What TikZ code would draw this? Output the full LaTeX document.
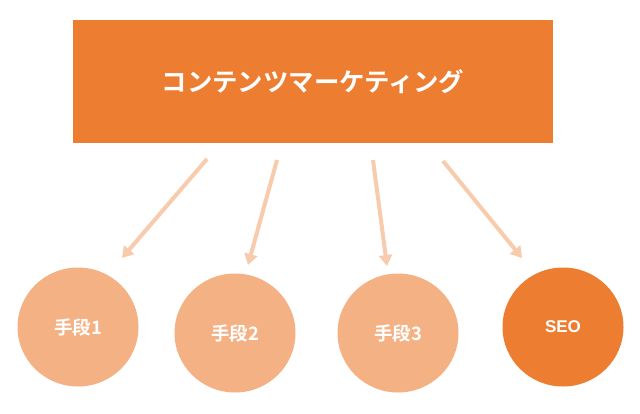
\documentclass[tikz,border=0pt]{standalone}
\usepackage{fontspec}
\setmainfont{Noto Sans CJK JP Bold}
\newfontfamily\latinbold{Liberation Sans Bold}
\usetikzlibrary{shapes,arrows.meta}
\definecolor{darkorange}{HTML}{ED7D31}
\definecolor{lightorange}{HTML}{F4B183}
\definecolor{paleorange}{HTML}{F8CBAD}
\tikzstyle{header} = [draw=none,fill=darkorange, rectangle, minimum height=123pt, minimum width=480pt, text=white, font=\fontsize{25.4}{30}\selectfont]
\tikzstyle{means} = [draw=none,fill=lightorange, ellipse, minimum height=119pt, minimum width=121pt, inner sep=0pt, text=white, font=\fontsize{18.5}{22}\selectfont]
\tikzstyle{seo} = [means, fill=darkorange, font=\latinbold\fontsize{17}{20}\selectfont]
\tikzstyle{link} = [draw=paleorange, line width=4pt, -{Triangle[width=13pt,length=11pt]}]

\begin{document}
\begin{tikzpicture}[x=1pt, y=-1pt]
    \useasboundingbox (0,0) rectangle (640,413);
    % nodes
    \node [header, name=marketing] at (313,81.5) {コンテンツマーケティング};
    \node [means, name=means1] at (78,327) {手段1};
    \node [means, name=means2] at (235,333) {手段2};
    \node [means, name=means3] at (398,333) {手段3};
    \node [seo, name=seo] at (563,327) {SEO};
    % arrow ends
    \coordinate (from1) at (207,159);
    \coordinate (to1) at (122,258);
    \coordinate (from2) at (277,160);
    \coordinate (to2) at (248,265);
    \coordinate (from3) at (373,160);
    \coordinate (to3) at (387,266);
    \coordinate (from4) at (443,161);
    \coordinate (to4) at (522,258);
    % edges
    \draw [link] (from1) -- (to1);
    \draw [link] (from2) -- (to2);
    \draw [link] (from3) -- (to3);
    \draw [link] (from4) -- (to4);
\end{tikzpicture}
\end{document}
